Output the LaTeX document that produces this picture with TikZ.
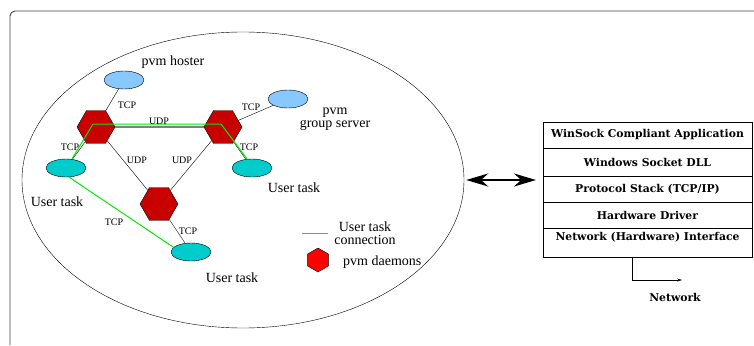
\documentclass[tikz,border=0pt]{standalone}
\usepackage{fontspec}
\newfontfamily\timesfont{Liberation Serif}
\newfontfamily\stackfont{DejaVu Serif}
\usetikzlibrary{shapes.geometric,positioning,arrows.meta}
\definecolor{daemonred}{RGB}{200,0,0}
\definecolor{legendred}{RGB}{255,0,0}
\definecolor{hostblue}{RGB}{135,200,255}
\definecolor{taskcyan}{RGB}{0,204,204}
\definecolor{linkgreen}{RGB}{0,235,0}
\begin{document}
\begin{tikzpicture}[x=1pt,y=-1pt,
    daemon/.style={regular polygon, regular polygon sides=6, minimum size=38pt, inner sep=0pt, draw, fill=daemonred},
    host/.style={ellipse, draw, fill=hostblue, minimum width=40pt, minimum height=18pt, inner sep=0pt},
    task/.style={host, fill=taskcyan},
    proto/.style={font=\timesfont\fontsize{10}{12}\selectfont, inner sep=0pt},
    lbl/.style={font=\timesfont\fontsize{14}{13}\selectfont, align=center, inner sep=0pt},
    layer/.style={draw, minimum width=209pt, minimum height=26pt, inner sep=0pt, outer sep=0pt, font=\stackfont\bfseries\fontsize{10.8}{13}\selectfont},
    usertask/.style={linkgreen, line width=1pt}]
  \useasboundingbox (0,0) rectangle (754,345);
  % frame
  \draw[line width=0.9pt, darkgray, rounded corners=5pt] (10,345) -- (10,11) -- (754,11);
  % pvm network
  \node[ellipse, draw, minimum width=442pt, minimum height=296pt, inner sep=0pt] (net) at (243,180) {};
  \node[daemon] (d1) at (96,127) {};
  \node[daemon] (d2) at (223,127) {};
  \node[daemon] (d3) at (159,204) {};
  \node[host] (hoster) at (124,80) {};
  \node[host] (group) at (288,99) {};
  \node[task] (ut1) at (66,168) {};
  \node[task] (ut2) at (252,168) {};
  \node[task] (ut3) at (191,252) {};
  \draw (hoster) -- (d1);
  \draw (group) -- (d2);
  \draw (d1) -- (ut1);
  \draw (d2) -- (ut2);
  \draw (d1) -- (d3);
  \draw (d2) -- (d3);
  \draw (d3) -- (ut3);
  \draw[gray, line width=1.6pt] (d1) -- (d2);
  \draw[usertask] ([xshift=6pt]ut1.north) -- ([xshift=-3pt,yshift=3pt]d1.center)
    -- ([xshift=-2pt,yshift=3pt]d2.center) -- ([xshift=-5pt]ut2.north);
  \draw[usertask] (ut1.-72) -- (ut3.165);
  \node[lbl] (hosterlbl) at (173,62) {pvm hoster};
  \node[lbl] (grouplbl) at (335,119) {pvm\\group server};
  \node[lbl] (ut1lbl) at (57,202) {User task};
  \node[lbl] (ut2lbl) at (294,188) {User task};
  \node[lbl] (ut3lbl) at (232,278) {User task};
  \node[proto] (p1) at (127,105) {TCP};
  \node[proto] (p2) at (251,107) {TCP};
  \node[proto] (p3) at (159,121) {UDP};
  \node[proto] (p4) at (70,147) {TCP};
  \node[proto] (p5) at (249,147) {TCP};
  \node[proto] (p6) at (137,160) {UDP};
  \node[proto] (p7) at (182,160) {UDP};
  \node[proto] (p8) at (114,222) {TCP};
  \node[proto] (p9) at (188,231) {TCP};
  % legend
  \coordinate (legA) at (302,233);
  \coordinate (legB) at (328,233);
  \draw[usertask] (legA) -- (legB);
  \node[lbl, font=\timesfont\fontsize{14}{12.5}\selectfont] (leglink) at (365,233) {User task\\connection};
  \node[regular polygon, regular polygon sides=6, shape border rotate=90, minimum size=24pt, inner sep=0pt, draw, fill=legendred] (leghex) at (318,260) {};
  \node[lbl, anchor=west] (legdaemon) at (343,262) {pvm daemons};
  % winsock stack
  \node[layer] (row1) at (647.5,135) {WinSock Compliant Application};
  \node[layer, minimum height=28pt, below=0pt of row1] (row2) {Windows Socket DLL};
  \node[layer, below=0pt of row2] (row3) {Protocol Stack (TCP/IP)};
  \node[layer, below=0pt of row3] (row4) {Hardware Driver};
  \node[layer, minimum height=29pt, text height=8pt, text depth=12pt, below=0pt of row4] (row5) {Network (Hardware) Interface};
  \draw[line width=2.5pt, {Stealth[length=22pt,width=13pt]}-{Stealth[length=22pt,width=13pt]}, shorten <=2pt, shorten >=7pt] (net.east) -- (net.east -| row1.west);
  \coordinate (netend) at (682,280);
  \draw[-{Stealth[length=5pt,width=3pt]}] ([xshift=-15.5pt]row5.south) |- (netend);
  \node[font=\stackfont\bfseries\fontsize{10.8}{13}\selectfont] (netlbl) at (675,297) {Network};
\end{tikzpicture}
\end{document}
